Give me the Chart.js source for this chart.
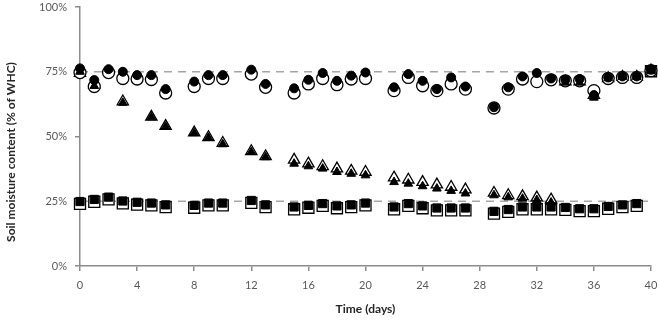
<!DOCTYPE html>
<html>
<head>
<meta charset="utf-8">
<script src="https://cdn.jsdelivr.net/npm/chart.js@4/dist/chart.umd.min.js"></script>
<style>
  html, body { margin: 0; padding: 0; background: #fff; }
  #wrap { width: 660px; height: 322px; position: relative; }
</style>
</head>
<body>
<div id="wrap"><canvas id="c"></canvas></div>
<script>
// Soil moisture (% of WHC) over 40 days — three watering regimes, two markers each.

const circleDays = [0,1,2,3,4,5,6,8,9,10,12,13,15,16,17,18,19,20,22,23,24,25,26,27,29,30,31,32,33,34,35,36,37,38,39,40];
const circleFilled = [76.3,71.8,76,75,73.7,73.7,68.3,71.2,73.7,73.7,75.8,70.3,68.6,71.9,74.5,71.5,73.5,74.7,69,74.1,71.5,68.3,72.8,69.3,61.3,69,73.2,74.5,72.4,71.9,72.2,66,72.8,73.2,73.2,75.8];
const circleOpen = [74.7,69.3,74.7,72.4,72.2,72,66.8,69.3,72.4,72.4,74.1,69,66.8,70.3,72.4,70,72.2,72.4,67.7,72.8,69.6,67.7,70.3,68.3,61,68.3,72.2,71.2,71.9,71.5,71.5,67.7,72.4,72.8,72.8,75.4];

const triDays = [0,1,3,5,6,8,9,10,12,13,15,16,17,18,19,20,22,23,24,25,26,27,29,30,31,32,33,34,35,36,37,38,39,40];
const triOpen = [74.5,70,63.5,57.6,54,51.5,49.7,47.5,44.3,42.3,41,39.5,38.5,37.6,36.7,36.3,34.1,33.3,32.4,31.4,30.5,29.5,28.2,27.3,26.9,26.4,25.6,71.2,71.2,66,72.5,73,73,75.5];
const triFilled = [75,69.5,63,57.4,53.8,51.3,49.5,47,44,42,39.5,38.5,37.6,36.3,35.6,35,32.4,31.8,30.8,29.9,29,28,27.3,26.5,26,25.5,24.5,70.8,70.8,65,72.5,73,73,75.5];

const sqDays = [0,1,2,3,4,5,6,8,9,10,12,13,15,16,17,18,19,20,22,23,24,25,26,27,29,30,31,32,33,34,35,36,37,38,39,40];
const sqOpen = [24,24.8,25.7,24.2,23.7,23.4,22.7,22.5,23.4,23.4,24.4,22.7,21.9,22.5,23.2,22.3,22.7,23.4,21.9,23.2,22.3,21.5,21.5,21.5,20.2,20.9,21.9,21.9,21.9,21.7,21.2,21.2,22.1,22.7,23.2,75.2];
const sqFilled = [24.9,25.7,26.6,25.1,24.6,24.3,23.6,23.4,24.3,24.3,25.3,23.6,22.8,23.4,24.1,23.2,23.6,24.3,22.8,24.1,23.2,22.4,22.4,22.4,21.1,21.8,22.8,22.8,22.8,22.6,22.1,22.1,23,23.6,24.1,75.8];

const refLevels = [75, 25];
const xRange = [0, 40];
const xTicks = [0,4,8,12,16,20,24,28,32,36,40];
const yTicks = [0,25,50,75,100];

const FONT = 'Lato, "Open Sans", sans-serif';
const TICK_COLOR = '#595959';
const TITLE_COLOR = '#262626';
const AXIS_COLOR = '#8c8c8c';

const pts = (days, vals) => days.map((d, i) => ({ x: d, y: vals[i] }));

function markerSet(label, days, vals, style, radius, filled, order) {
  return {
    type: 'scatter', label, data: pts(days, vals), order,
    pointStyle: style, pointRadius: radius, pointHoverRadius: radius,
    backgroundColor: filled ? '#000' : '#fff',
    borderColor: '#000', borderWidth: filled ? 1 : 1.3,
    clip: false,
  };
}

const refSets = refLevels.map(v => ({
  type: 'line', label: `ref ${v}`, order: 5,
  data: xRange.map(x => ({ x, y: v })),
  borderColor: '#a6a6a6', borderWidth: 1.5, borderDash: [8, 6],
  pointRadius: 0, fill: false,
}));

const yTitle = {
  id: 'yTitle',
  afterDraw(chart) {
    const ctx = chart.ctx;
    ctx.save();
    ctx.translate(11, 152);
    ctx.rotate(-Math.PI / 2);
    ctx.font = `bold 12px ${FONT}`;
    ctx.fillStyle = TITLE_COLOR;
    ctx.textAlign = 'center';
    ctx.textBaseline = 'middle';
    ctx.fillText('Soil moisture content (% of WHC)', 0, 0);
    ctx.restore();
  },
};

new Chart(document.getElementById('c'), {
  type: 'scatter',
  data: {
    datasets: [
      ...refSets,
      markerSet('circle open', circleDays, circleOpen, 'circle', 6, false, 3),
      markerSet('triangle open', triDays, triOpen, 'triangle', 6.5, false, 3),
      markerSet('square open', sqDays, sqOpen, 'rect', 7.8, false, 3),
      markerSet('circle filled', circleDays, circleFilled, 'circle', 4.5, true, 1),
      markerSet('triangle filled', triDays, triFilled, 'triangle', 5, true, 1),
      markerSet('square filled', sqDays, sqFilled, 'rect', 5.8, true, 1),
    ],
  },
  options: {
    responsive: true,
    maintainAspectRatio: false,
    animation: false,
    layout: { autoPadding: false, padding: 0 },
    plugins: { legend: { display: false }, tooltip: { enabled: false } },
    scales: {
      x: {
        type: 'linear', min: xRange[0], max: xRange[1],
        afterBuildTicks: s => { s.ticks = xTicks.map(v => ({ value: v })); },
        afterFit: s => { s.height = 56; s.paddingLeft = 0; s.paddingRight = 9; },
        grid: { drawOnChartArea: false, drawTicks: true, tickLength: 5, color: AXIS_COLOR, lineWidth: 1.5 },
        border: { color: AXIS_COLOR, width: 1.5 },
        ticks: { color: TICK_COLOR, font: { family: FONT, size: 11 }, padding: 8, maxRotation: 0 },
        title: { display: true, text: 'Time (days)', color: TITLE_COLOR, font: { family: FONT, size: 12, weight: 'bold' }, padding: { top: 0, bottom: 6 } },
      },
      y: {
        min: 0, max: 100,
        afterBuildTicks: s => { s.ticks = yTicks.map(v => ({ value: v })); },
        afterFit: s => { s.width = 80; s.paddingTop = 7; s.paddingBottom = 0; },
        grid: { drawOnChartArea: false, drawTicks: true, tickLength: 5, color: AXIS_COLOR, lineWidth: 1.5 },
        border: { color: AXIS_COLOR, width: 1.5 },
        ticks: { color: TICK_COLOR, font: { family: FONT, size: 11 }, padding: 8, callback: v => v + '%' },
      },
    },
  },
  plugins: [yTitle],
});
</script>
</body>
</html>
